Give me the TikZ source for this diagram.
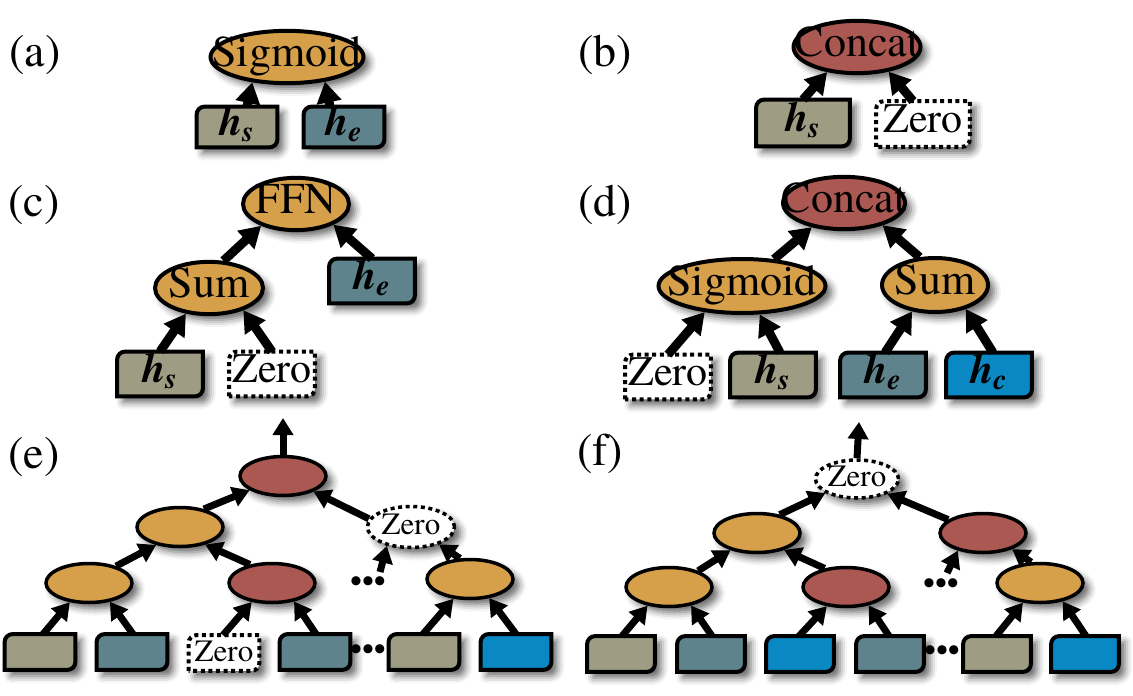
\documentclass[tikz,border=0pt]{standalone}
\usepackage{fontspec}
\setmainfont{texgyretermes}[Extension=.otf, UprightFont=*-regular, BoldFont=*-bold, ItalicFont=*-italic, BoldItalicFont=*-bolditalic]
\usetikzlibrary{arrows.meta,shapes.geometric,backgrounds,shadows.blur}

\definecolor{opor}{HTML}{D6A04A}
\definecolor{opred}{HTML}{AB5852}
\definecolor{vtan}{HTML}{9E9D84}
\definecolor{vslate}{HTML}{5F838C}
\definecolor{vblue}{HTML}{0A88C3}

\newcommand{\optext}[1]{\hbox to 0pt{\hss#1\hss}}
\newcommand{\hv}[1]{\textbf{\textit{h\textsubscript{#1}}}}

\tikzset{
  softshadow/.style={blur shadow={shadow xshift=3pt, shadow yshift=-3pt, shadow blur radius=3.5pt, shadow opacity=60}},
  panel/.style={inner sep=0pt, font=\fontsize{23}{27}\selectfont},
  op/.style={ellipse, draw, line width=2pt, inner sep=0pt, softshadow, text height=14pt, text depth=4.5pt, font=\fontsize{22}{26}\selectfont},
  minor/.style={line width=1.75pt, minimum width=43pt, minimum height=19.5pt, text height=10pt, text depth=3pt, font=\fontsize{15.5}{18}\selectfont},
  orop/.style={op, fill=opor},
  redop/.style={op, fill=opred},
  zline/.style={dash pattern=on 2pt off 1.8pt},
  zop/.style={op, fill=white, zline},
  vec/.style={inner sep=0pt, minimum width=42.5pt, minimum height=22pt, text height=12pt, text depth=3.5pt, font=\fontsize{21}{25}\selectfont},
  svec/.style={vec, minimum width=35pt, minimum height=17.5pt, font=\fontsize{15.5}{18}\selectfont},
  vecline/.style={line width=2pt, softshadow},
  link/.style={line width=4.5pt, -{Triangle[length=10.5pt,width=12pt]}},
  slink/.style={line width=3.5pt, -{Triangle[length=8.5pt,width=10pt]}},
  divider/.style={line width=2pt, dash pattern=on 7.5pt off 5pt},
  dots/.style={inner sep=0pt, font=\fontsize{17}{17}\selectfont}
}

\begin{document}
\begin{tikzpicture}[x=0.5pt, y=-0.5pt]

\def\r{4pt}
\useasboundingbox (0,0) rectangle (1133,695);

% Dividers
\begin{scope}[on background layer]
\draw[divider] (0,3) -- (1120,3);
\draw[divider] (0,160) -- (1120,160);
\draw[divider] (0,413) -- (1114,413);
\draw[divider] (0,688) -- (1114,688);
\draw[divider] (560,3) -- (563,688);
\end{scope}

% (a)
\node[panel] (la) at (35,55) {(a)};
\node[orop, minimum width=76.5pt, minimum height=25pt] (asig) at (287,57) {\optext{Sigmoid}};
\node[vec, minimum width=40pt, minimum height=20pt] (ahs) at (237,127) {\hv{s}};
\node[vec, minimum width=40pt, minimum height=20pt] (ahe) at (344,127) {\hv{e}};
\draw[link] ([xshift=5pt]ahs.north) -- (asig.216);
\draw[link] ([xshift=-7pt]ahe.north) -- (asig.327);

% (b)
\node[panel] (lb) at (605,55) {(b)};
\node[redop, minimum width=63.5pt, minimum height=25pt] (bcat) at (857,47) {\optext{Concat}};
\node[vec, minimum width=46.5pt, minimum height=23pt] (bhs) at (803,123) {\hv{s}};
\node[vec, minimum width=46.5pt, minimum height=22.5pt] (bz) at (923,124) {Zero};
\draw[link] (bhs.north) -- (bcat.220);
\draw[link] ([xshift=-5pt]bz.north) -- (bcat.322);

% (c)
\node[panel] (lc) at (34,205) {(c)};
\node[orop, minimum width=53pt, minimum height=26pt] (cffn) at (296,204) {\optext{FFN}};
\node[orop, minimum width=54pt, minimum height=25.5pt] (csum) at (209,288) {\optext{Sum}};
\node[vec] (che) at (372,281) {\hv{e}};
\node[vec] (chs) at (160,374) {\hv{s}};
\node[vec] (cz) at (272,374) {Zero};
\draw[link] (csum.62) -- (cffn.212);
\draw[link] (che.north) -- (cffn.331);
\draw[link] (chs.north) -- (csum.228);
\draw[link] (cz.north) -- (csum.327);

% (d)
\node[panel] (ld) at (605,205) {(d)};
\node[redop, minimum width=61pt, minimum height=25.5pt] (dcat) at (844,203) {\optext{Concat}};
\node[orop, minimum width=83.5pt, minimum height=27pt] (dsig) at (742,286) {\optext{Sigmoid}};
\node[orop, minimum width=53pt, minimum height=27pt] (dsum) at (935,285) {\optext{Sum}};
\node[vec] (dz) at (668,377) {Zero};
\node[vec] (dhs) at (773,375) {\hv{s}};
\node[vec] (dhe) at (883,375) {\hv{e}};
\node[vec] (dhc) at (989,375) {\hv{c}};
\draw[link] (dsig.40) -- (dcat.217);
\draw[link] (dsum.119) -- (dcat.330);
\draw[link] (dz.north) -- (dsig.215);
\draw[link] ([xshift=3.5pt]dhs.north) -- (dsig.302);
\draw[link] ([xshift=1pt]dhe.north) -- (dsum.229);
\draw[link] ([xshift=2pt]dhc.north) -- (dsum.322);

% (e)
\node[panel] (le) at (34,457) {(e)};
\node[redop, minor] (eroot) at (283,476) {};
\node[orop, minor] (emid) at (180,527) {};
\node[zop, minor, minimum width=43.5pt, minimum height=20.5pt] (ezero) at (411,527) {\optext{Zero}};
\node[orop, minor] (el) at (89,583) {};
\node[redop, minor] (ered) at (272,583) {};
\node[orop, minor] (er) at (470,579) {};
\node[dots] (edots1) at (368,585) {\textbullet\textbullet\textbullet};
\node[dots] (edots2) at (368,653) {\textbullet\textbullet\textbullet};
\node[svec] (eb1) at (40,652) {};
\node[svec] (eb2) at (132,652) {};
\node[svec] (ebz) at (224,653) {Zero};
\node[svec] (eb4) at (315,652) {};
\node[svec] (eb5) at (424,652) {};
\node[svec] (eb6) at (516,652) {};
\coordinate (etop) at (283,418);
\draw[slink] (eroot.north) -- (etop);
\draw[slink] (emid.37) -- (eroot.203);
\draw[slink] (ezero.169) -- (eroot.333);
\draw[slink] (el.32) -- (emid.217);
\draw[slink] (ered.140) -- (emid.325);
\draw[slink] ([xshift=6pt,yshift=6.5pt]edots1.center) -- (ezero.218);
\draw[slink] (er.116) -- (ezero.328);
\draw[slink] ([xshift=1.5pt]eb1.north) -- (el.225);
\draw[slink] ([xshift=0.5pt]eb2.north) -- (el.318);
\draw[slink] ([xshift=-0.5pt]ebz.north) -- (ered.223);
\draw[slink] ([xshift=0.5pt]eb4.north) -- (ered.320);
\draw[slink] ([xshift=-0.5pt]eb5.north) -- (er.230);
\draw[slink] (eb6.north) -- (er.315);

% (f)
\node[panel] (lf) at (600,454) {(f)};
\node[zop, minor, minimum width=41.5pt, minimum height=19pt] (fzero) at (857,479) {\optext{Zero}};
\node[orop, minor] (fmid) at (757,533) {};
\node[redop, minor] (fred) at (983,533) {};
\node[orop, minor] (fl) at (669,587) {};
\node[redop, minor] (fredm) at (846,587) {};
\node[orop, minor] (fr) at (1040,583) {};
\node[dots] (fdots1) at (941,587) {\textbullet\textbullet\textbullet};
\node[dots] (fdots2) at (942,654) {\textbullet\textbullet\textbullet};
\node[svec, minimum width=33.5pt] (fb1) at (621,654) {};
\node[svec, minimum width=33.5pt] (fb2) at (711,654) {};
\node[svec, minimum width=33.5pt] (fb3) at (800,654) {};
\node[svec, minimum width=33.5pt] (fb4) at (890,654) {};
\node[svec, minimum width=33.5pt] (fb5) at (997,654) {};
\node[svec, minimum width=33.5pt] (fb6) at (1085,654) {};
\coordinate (ftop) at (859,422);
\draw[slink] (fzero.north) -- (ftop);
\draw[slink] (fmid.39) -- (fzero.204);
\draw[slink] (fred.159) -- (fzero.334);
\draw[slink] (fl.29) -- (fmid.213);
\draw[slink] (fredm.139) -- (fmid.328);
\draw[slink] ([xshift=3pt,yshift=7pt]fdots1.center) -- (fred.215);
\draw[slink] (fr.113) -- (fred.331);
\draw[slink] ([xshift=0.5pt]fb1.north) -- (fl.221);
\draw[slink] ([xshift=0.5pt]fb2.north) -- (fl.320);
\draw[slink] ([xshift=-0.5pt]fb3.north) -- (fredm.225);
\draw[slink] ([xshift=-0.5pt]fb4.north) -- (fredm.321);
\draw[slink] ([xshift=-0.5pt]fb5.north) -- (fr.229);
\draw[slink] ([xshift=0.5pt]fb6.north) -- (fr.321);

% Vector boxes
\begin{scope}[on background layer]
\foreach \n/\c in {ahs/vtan, ahe/vslate, bhs/vtan, chs/vtan, che/vslate,
                   dhs/vtan, dhe/vslate, dhc/vblue,
                   eb1/vtan, eb2/vslate, eb4/vslate, eb5/vtan, eb6/vblue,
                   fb1/vtan, fb2/vslate, fb3/vblue, fb4/vslate, fb5/vtan, fb6/vblue}
  \draw[vecline, fill=\c] (\n.south west) -- ([yshift=-\r]\n.north west)
    arc[start angle=180, end angle=90, radius=\r] -- (\n.north east)
    -- ([yshift=\r]\n.south east) arc[start angle=0, end angle=-90, radius=\r] -- cycle;
\foreach \n in {bz, cz, dz, ebz}
  \draw[vecline, zline, fill=white] (\n.south west) -- ([yshift=-\r]\n.north west)
    arc[start angle=180, end angle=90, radius=\r] -- (\n.north east)
    -- ([yshift=\r]\n.south east) arc[start angle=0, end angle=-90, radius=\r] -- cycle;
\end{scope}

\end{tikzpicture}
\end{document}
